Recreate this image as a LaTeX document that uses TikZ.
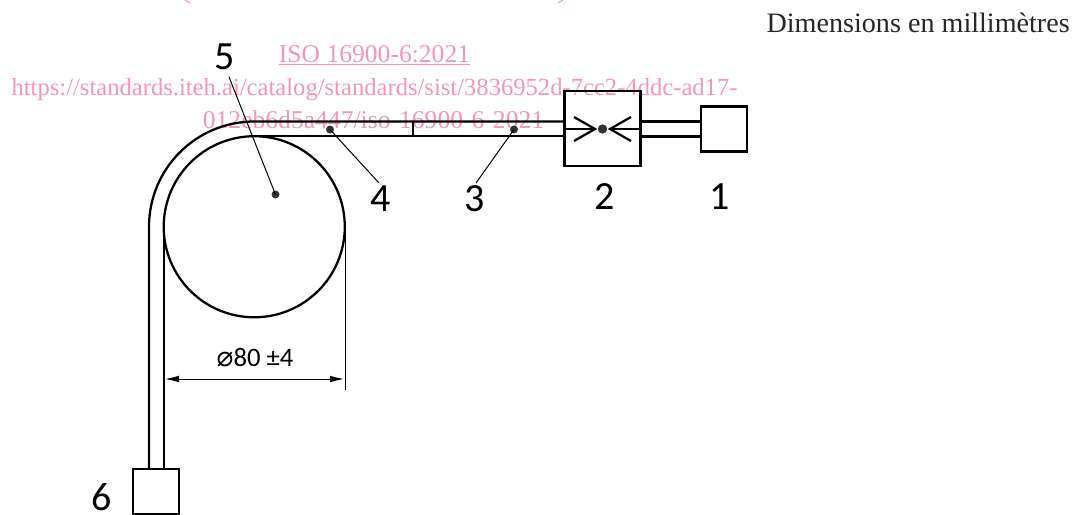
\documentclass[tikz,border=0pt]{standalone}
\usepackage{fontspec}
\setmainfont{Liberation Serif}
\newfontfamily\drawfont{Carlito}
\newfontfamily\symfont{DejaVu Sans}
\definecolor{wm}{HTML}{F297B2}
\usetikzlibrary{arrows.meta}
\tikzset{x=0.75pt,y=-0.75pt,
  pipe/.style={draw=black,line width=1.7pt},
  heavypipe/.style={draw=black,line width=2.3pt},
  leaderline/.style={draw=black,line width=0.75pt},
  blk/.style={draw=black,line width=2pt,inner sep=0pt,outer sep=0pt},
  ldot/.style={circle,fill=black!80,inner sep=0pt,minimum size=6pt},
  num/.style={font=\drawfont\fontsize{30}{30}\selectfont,inner sep=0pt,text=black},
  wmt/.style={font=\fontsize{18.46}{18.46}\selectfont,text=wm,inner sep=0pt,anchor=base},
  wmb/.style={wmt,font=\fontsize{19.2}{19.2}\selectfont}
}
\begin{document}
\begin{tikzpicture}
\useasboundingbox (0,0) rectangle (1088,514);
% watermark
\draw[wm,line width=0.8pt] (185,0) -- (190,3);
\draw[wm,line width=0.8pt] (563,0) -- (558,3);
\node[wmb] (w1) at (374.5,62.5) {\underline{ISO 16900-6:2021}};
\node[wmt] (w2) at (374.5,95.5) {https://standards.iteh.ai/catalog/standards/sist/3836952d-7cc2-4ddc-ad17-};
\node[wmb] (w3) at (373.5,128) {012eb6d5a447/iso-16900-6-2021};
\node[font=\fontsize{21.1}{21.1}\selectfont,text=black!85,inner sep=0pt,anchor=base east] (dim) at (1070,32) {Dimensions en millimètres};
% circle and tube
\coordinate (c) at (254.25,226.75);
\draw[pipe] (c) circle[radius=67.9pt];
\node[blk,minimum width=34.5pt,minimum height=33.75pt,anchor=north] (box6) at (156,469) {};
\node[blk,minimum width=57pt,minimum height=56.25pt] (box2) at (602.5,128.5) {};
\node[blk,minimum width=34.5pt,minimum height=33.75pt] (box1) at (724,129) {};
\draw[heavypipe] (box2.east |- 0,121.5) -- (box1.west |- 0,121.5);
\draw[heavypipe] (box2.east |- 0,136.5) -- (box1.west |- 0,136.5);
\draw[pipe] (box6.north -| 149,0) -- (149,226.75) arc[start angle=180,end angle=90,radius=78.94pt] -- (box2.west |- 0,121.5);
\draw[pipe] (box6.north -| 163.75,0) -- (163.75,226.75);
\draw[pipe] (254.25,136.25) -- (box2.west |- 0,136.25);
\draw[pipe] (413,121.5) -- (413,136.25);
% coupling
\node[ldot,minimum size=7pt] (m) at (602.5,129) {};
\coordinate (la) at (595,129);
\coordinate (ra) at (610,129);
\draw[pipe] (574,117) -- (la) -- (574,141);
\draw[pipe] (631,117) -- (ra) -- (631,141);
\draw[pipe,line width=1.3pt] (box2.west |- la) -- (la);
\draw[pipe,line width=1.3pt] (box2.east |- ra) -- (ra);
% leaders
\node[ldot] (d5) at (275.5,194.5) {};
\node[ldot] (d4) at (330,129.5) {};
\node[ldot] (d3) at (514,129.5) {};
\node[num] (n5) at (225,57) {5};
\node[num] (n4) at (381,199) {4};
\node[num] (n3) at (475,199) {3};
\node[num] (n2) at (604.5,197) {2};
\node[num] (n1) at (720,197) {1};
\node[num] (n6) at (102,497) {6};
\coordinate (l5) at (229,77);
\coordinate (l4) at (379,183);
\coordinate (l3) at (476,183);
\draw[leaderline] (l5) -- (d5.center);
\draw[leaderline] (l4) -- (d4.center);
\draw[leaderline] (l3) -- (d3.center);
% dimension
\coordinate (e1) at (345,226.75);
\coordinate (e2) at (345,390);
\draw[leaderline] (e1) -- (e2);
\coordinate (a1) at (165,379);
\coordinate (a2) at (344,379);
\draw[leaderline,{Latex[length=10.5pt,width=5pt]}-{Latex[length=10.5pt,width=5pt]}] (a1) -- (a2);
\node[font=\drawfont\fontsize{20}{20}\selectfont,inner sep=0pt] (dl) at (255,358) {{\symfont\fontsize{21}{20}\selectfont ⌀}80 ±4};
\end{tikzpicture}
\end{document}
